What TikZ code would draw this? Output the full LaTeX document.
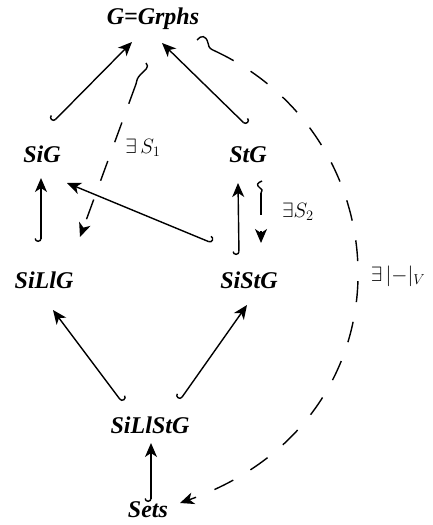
\documentclass[tikz,border=0pt]{standalone}
\usepackage{fontspec}
\newfontfamily\tnr{Liberation Serif}
\usetikzlibrary{arrows.meta,calc}
\begin{document}
\begin{tikzpicture}[x=1pt,y=-1pt,
  obj/.style={font=\tnr\bfseries\itshape\fontsize{24}{28}\selectfont, inner sep=0pt, anchor=base},
  lbl/.style={font=\huge, inner sep=0pt},
  tipS/.tip={Stealth[length=14pt,width=12pt,inset=4pt]},
  incR/.style={line width=1.4pt, {Hooks[right,width=13pt,length=3.5pt]}-tipS},
  incL/.style={line width=1.4pt, {Hooks[left,width=13pt,length=3.5pt]}-tipS},
  dsh/.style={line width=1.4pt, dash pattern=on 21pt off 20pt, -tipS},
  sq/.style={line width=1.4pt}
]
\fill[white] (0,0) rectangle (432,525);
\useasboundingbox (0,0) rectangle (432,525);

\node[obj] (g) at (153,24) {G=Grphs};
\node[obj] (sig) at (42,162) {SiG};
\node[obj] (stg) at (248,162) {StG};
\node[obj] (silg) at (44,288) {SiLlG};
\node[obj] (sistg) at (249,288) {SiStG};
\node[obj] (silst) at (150,433) {SiLlStG};
\node[obj] (sets) at (148,517) {Sets};

\node[lbl] (l1) at (143,148) {$\exists\,S_1$};
\node[lbl] (l2) at (298,212) {$\exists S_2$};
\node[lbl] (l3) at (398,276) {$\exists\,|{-}|_V$};

% solid inclusions
\draw[incR] ($(sig.base)+(11,-40)$) -- ($(g.base)+(-21,18)$);
\draw[incL] ($(stg.base)+(-2,-37)$) -- ($(g.base)+(9,19)$);
\draw[incR] ($(silg.base)+(-3,-46)$) -- ($(sig.base)+(-1,16)$);
\draw[incL] ($(sistg.base)+(-37,-45)$) -- ($(sig.base)+(25,21)$);
\draw[incR] ($(sistg.base)+(-10,-33)$) -- ($(stg.base)+(-10,21)$);
\draw[incL] ($(silst.base)+(-28,-31)$) -- ($(silg.base)+(9,22)$);
\draw[incR] ($(silst.base)+(30,-33)$) -- ($(sistg.base)+(-2,17)$);
\draw[incR] ($(sets.base)+(3,-15)$) -- ($(silst.base)+(1,10)$);

% dashed S1
\coordinate (s1a) at ($(g.base)+(-7,39)$);
\coordinate (s1b) at ($(g.base)+(-17,60)$);
\draw[sq] (s1a) .. controls +(4,4) and +(4,-4) .. ($(s1a)+(-5,11)$) .. controls +(-4,4) and +(1,-4) .. (s1b);
\draw[dsh] (s1b) -- ($(silg.base)+(36,-51)$);

% dashed S2
\coordinate (s2a) at ($(stg.base)+(14,19)$);
\coordinate (s2b) at ($(stg.base)+(13,31)$);
\draw[sq] (s2a) .. controls +(-5,2) and +(-4,-3) .. ($(s2a)+(-2,7)$) .. controls +(4,3) and +(0,-3) .. (s2b);
\draw[dsh, dash pattern=on 22pt off 16pt] (s2b) -- ($(sistg.base)+(12,-45)$);

% dashed V
\coordinate (vA) at ($(g.base)+(44,16)$);
\coordinate (vB) at ($(g.base)+(62,27)$);
\draw[sq] (vA) .. controls +(4,-5) and +(-2,-8) .. ($(vA)+(11,3)$) .. controls +(1,6) and +(-4,-2) .. (vB);
\draw[dsh] (vB) .. controls (405,140) and (415,420) .. ($(sets.base)+(32,-14)$);
\end{tikzpicture}
\end{document}
